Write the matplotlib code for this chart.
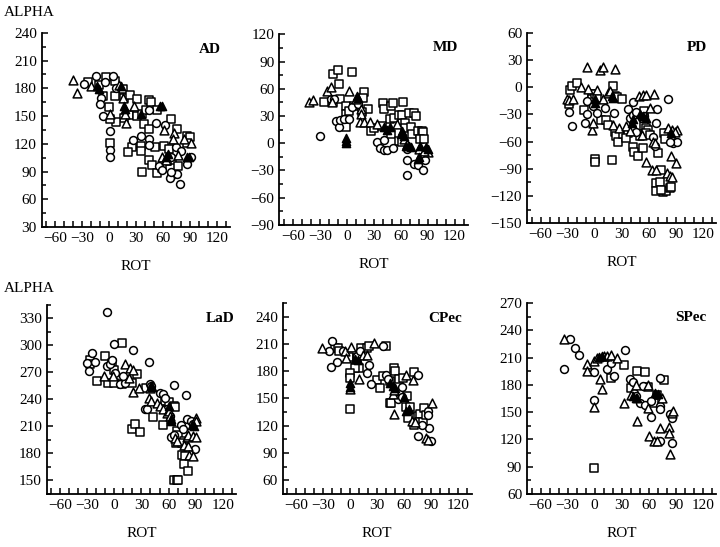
import numpy as np
import matplotlib
matplotlib.use('Agg')
import matplotlib.pyplot as plt
from matplotlib.ticker import MultipleLocator

plt.rcParams['font.family'] = ['Liberation Serif', 'DejaVu Serif']
plt.rcParams['font.size'] = 11

# values, (ROT, ALPHA) pairs
ad_circles = [(-28,185),(-15,193),(-9,170),(-10,163),(-5,187),(4,193),(8,180),(-7,150),(1,134),(1,113),(1,106),
              (44,156),(52,143),(62,140),(27,124),(36,128),(44,125),(44,119),(56,96),(59,92),(69,106),(74,116),
              (80,112),(69,85),(68,83),(76,87),(79,77),(87,98),(91,106),(69,90)]
ad_squares = [(-23,187),(-11,184),(-7,172),(-4,192),(7,188),(15,179),(7,172),(17,169),(23,173),(31,168),(22,151),
              (17,148),(8,144),(0,160),(1,147),(1,121),(31,150),(37,152),(41,157),(44,167),(47,165),(53,156),
              (39,141),(44,136),(69,147),(75,136),(87,128),(90,127),(87,121),(35,118),(25,117),(35,112),(21,111),
              (51,116),(61,118),(44,103),(48,97),(37,90),(53,88),(67,114),(70,103),(77,96),(64,101),(59,94)]
ad_triangles = [(-40,189),(-36,175),(-20,182),(11,184),(15,170),(28,161),(18,152),(19,142),(1,152),(61,135),
                (72,132),(83,125),(91,121),(71,125),(59,106),(63,103),(77,108)]
ad_filled = [(-13,182),(-11,179),(13,183),(17,161),(18,158),(35,152),(57,161),(59,161),(63,106),(65,109),
             (87,106),(89,106)]

md_circles = [(-30,8),(-18,49),(-14,49),(-12,25),(-9,18),(-7,26),(-3,27),(3,27),(6,40),(13,43),(34,1),(37,-5),
              (41,-7),(45,-8),(51,-5),(42,4),(67,-6),(67,-19),(75,-23),(79,-24),(85,-29),(87,-19),(67,-35)]
md_squares = [(-25,45),(-15,76),(-10,81),(6,79),(-15,45),(-7,49),(-9,65),(-1,41),(-1,32),(-1,26),(-1,18),(3,36),
              (8,41),(19,57),(18,50),(24,38),(17,34),(27,14),(30,17),(40,44),(42,38),(49,41),(51,44),(63,45),
              (48,27),(39,19),(53,28),(58,31),(62,31),(69,33),(75,33),(77,30),(65,22),(65,17),(71,18),(73,10),
              (79,13),(84,13),(85,12),(49,10),(58,2),(62,1),(82,5),(86,5)]
md_triangles = [(-42,45),(-38,48),(-22,58),(-18,62),(3,58),(-16,46),(10,49),(16,38),(16,32),(15,23),(19,23),
                (26,23),(34,21),(56,21),(64,5),(67,-1),(81,-6),(91,-10),(86,-9)]
md_filled = [(-1,6),(-1,3),(-1,0),(11,52),(13,50),(42,18),(45,15),(48,18),(62,14),(60,10),(64,8),(66,-3),
             (69,-3),(71,-4),(88,-4),(90,-6),(82,-3),(79,-17),(80,-15)]

pd_circles = [(-29,-27),(-25,-43),(-9,-15),(-9,-30),(-11,-39),(-2,-21),(3,-28),(11,-23),(21,-29),(37,-24),
              (43,-16),(39,-34),(43,-31),(46,-27),(69,-24),(81,-13),(46,-49),(52,-34),(55,-32),(65,-55),
              (67,-65),(68,-39),(87,-62),(91,-60),(83,-60)]
pd_squares = [(-29,-18),(-27,-3),(-25,1),(-20,5),(-12,-25),(-3,-7),(-3,-13),(0,-79),(0,-83),(0,-8),(3,-12),
              (7,-36),(13,-36),(15,-42),(20,1),(22,-10),(25,-11),(30,-13),(19,-80),(22,-49),(24,-54),(26,-60),
              (31,-52),(37,-50),(41,-47),(35,-56),(43,-66),(44,-71),(48,-76),(54,-67),(50,-54),(55,-26),
              (55,-43),(57,-45),(59,-47),(57,-50),(61,-53),(70,-73),(74,-91),(68,-106),(72,-105),(76,-116),
              (79,-115),(68,-115),(74,-113),(83,-111),(85,-110),(81,-50),(85,-54),(77,-50),(78,-57)]
pd_triangles = [(-31,-13),(-28,-14),(-24,-13),(-15,0),(-7,-2),(-9,22),(-3,-47),(-2,-40),(3,-3),(6,19),(9,22),
                (22,20),(9,-13),(15,-6),(17,-4),(20,-42),(27,-45),(35,-43),(39,-48),(49,-10),(54,-9),(57,-9),
                (66,-7),(53,-53),(61,-23),(57,-83),(65,-60),(67,-62),(64,-91),(68,-91),(81,-45),(86,-47),
                (91,-47),(89,-49),(85,-76),(90,-84),(80,-95),(83,-98),(86,-99)]
pd_filled = [(0,-13),(0,-17),(19,-10),(20,-12),(41,-39),(43,-35),(50,-30),(54,-32),(57,-34),(85,-51)]

lad_circles = [(-8,337),(-1,301),(21,295),(-25,291),(-28,271),(-30,280),(-21,281),(-8,277),(-5,279),(-3,284),
               (1,269),(6,257),(12,258),(10,266),(38,281),(40,257),(41,255),(34,229),(36,229),(51,247),(54,246),
               (56,241),(58,229),(62,222),(66,256),(79,245),(63,198),(66,200),(74,211),(76,207),(81,218),
               (85,216),(87,213),(89,185)]
lad_squares = [(8,302),(-27,284),(-27,279),(-10,288),(-19,260),(-7,258),(-1,258),(-3,280),(-1,273),(8,257),
               (14,260),(19,258),(25,268),(19,207),(23,213),(28,204),(35,253),(43,220),(56,238),(60,237),
               (66,233),(67,232),(54,211),(69,205),(71,200),(68,192),(77,194),(75,192),(75,178),(78,177),
               (77,168),(82,161),(66,151),(69,151),(71,151)]
lad_triangles = [(-12,266),(-2,266),(12,279),(17,275),(21,273),(16,264),(21,248),(27,253),(40,253),(38,242),
                 (41,238),(47,236),(51,233),(54,229),(58,225),(60,227),(62,222),(67,197),(69,194),(90,219),
                 (91,216),(80,198),(82,200),(87,199),(91,198),(77,189),(82,188),(83,178),(87,177)]
lad_filled = [(41,255),(42,254),(60,233),(63,218),(63,216),(86,212),(88,210)]

cpec_circles = [(-24,202),(-20,213),(-21,185),(-15,190),(-8,202),(7,197),(11,202),(19,178),(21,187),(36,208),
                (23,166),(40,176),(42,171),(53,149),(58,152),(58,163),(75,176),(86,136),(87,132),(75,109),
                (90,103),(88,118),(80,121)]
cpec_squares = [(-17,205),(-14,205),(-13,202),(-1,196),(7,194),(12,206),(19,205),(10,183),(5,183),(0,178),
                (0,172),(0,138),(21,208),(40,208),(30,170),(33,161),(36,175),(44,169),(49,184),(50,180),
                (44,145),(45,145),(54,171),(59,172),(71,179),(63,153),(62,141),(66,141),(64,129),(71,121),
                (75,131),(78,133),(77,124),(81,124),(82,139),(84,132)]
cpec_triangles = [(-31,206),(-6,202),(-5,194),(1,207),(14,198),(19,198),(10,171),(0,160),(26,211),(47,155),
                  (49,159),(49,133),(62,176),(70,170),(69,125),(72,124),(84,106),(87,104),(91,145)]
cpec_filled = [(5,193),(9,192),(0,167),(0,163),(44,167),(47,164),(50,162),(60,152),(62,136),(65,138)]

spec_circles = [(-27,230),(-22,221),(-17,213),(-34,197),(-1,194),(14,197),(18,204),(21,190),(34,218),(-1,163),
                (39,186),(42,183),(44,171),(46,168),(50,160),(54,179),(56,158),(63,162),(63,145),(72,118),
                (72,187),(73,157),(73,153),(84,148),(86,143),(86,116)]
spec_squares = [(18,188),(32,202),(-1,88),(47,195),(56,194),(40,176),(59,178),(66,160),(69,169),(77,185)]
spec_triangles = [(-34,230),(-9,203),(-8,195),(-1,206),(3,209),(10,212),(14,212),(18,213),(6,186),(8,175),
                  (25,210),(-1,156),(32,160),(40,169),(46,180),(47,140),(59,180),(59,154),(60,124),(66,118),
                  (69,118),(73,133),(75,166),(82,134),(82,127),(84,104),(86,149),(87,151)]
spec_filled = [(5,211),(8,212),(42,168),(46,166),(47,165),(67,171),(70,170)]


def panel(ax, name, ylo, yhi, circles, squares, triangles, filled, name_x=0.95, name_y=0.915):
    for pts, m, fc, s in [(squares, 's', 'white', 36), (circles, 'o', 'white', 32),
                          (triangles, '^', 'white', 40), (filled, '^', 'black', 34)]:
        a = np.array(pts, dtype=float)
        ax.scatter(a[:, 0], a[:, 1], marker=m, s=s, facecolors=fc, edgecolors='black', linewidths=1.1, zorder=3)
    ax.set_xlim(-75, 135)
    ax.set_ylim(ylo, yhi)
    ax.spines['top'].set_visible(False)
    ax.spines['right'].set_visible(False)
    ax.spines['left'].set_linewidth(1.3)
    ax.spines['bottom'].set_linewidth(1.3)
    ax.set_xticks(np.arange(-60, 121, 30))
    ax.xaxis.set_minor_locator(MultipleLocator(10))
    ax.set_yticks(np.arange(ylo if (ylo % 30 == 0) else ylo + 15, yhi + 1, 30))
    ax.yaxis.set_minor_locator(MultipleLocator(15))
    ax.tick_params(which='both', direction='in', width=1.1, labelsize=11)
    ax.tick_params(which='major', length=4)
    ax.tick_params(which='minor', length=4)
    ax.tick_params(axis='y', which='minor', length=3)
    ax.set_xlabel('ROT', fontsize=11, labelpad=11)
    ax.text(name_x, name_y, name, transform=ax.transAxes, ha='right', va='center',
            fontsize=11, fontweight='bold')


fig = plt.figure(figsize=(7.2, 5.47), dpi=100)

ax1 = fig.add_axes([0.058, 0.585, 0.262, 0.355])
ax2 = fig.add_axes([0.388, 0.589, 0.262, 0.348])
ax3 = fig.add_axes([0.732, 0.592, 0.263, 0.348])
ax4 = fig.add_axes([0.065, 0.097, 0.263, 0.346])
ax5 = fig.add_axes([0.393, 0.097, 0.262, 0.349])
ax6 = fig.add_axes([0.732, 0.097, 0.263, 0.349])

panel(ax1, 'AD', 30, 240, ad_circles, ad_squares, ad_triangles, ad_filled)
panel(ax2, 'MD', -90, 120, md_circles, md_squares, md_triangles, md_filled, name_y=0.93)
panel(ax3, 'PD', -150, 60, pd_circles, pd_squares, pd_triangles, pd_filled, name_y=0.925)
panel(ax4, 'LaD', 135, 345, lad_circles, lad_squares, lad_triangles, lad_filled, name_x=0.99, name_y=0.925)
panel(ax5, 'CPec', 45, 255, cpec_circles, cpec_squares, cpec_triangles, cpec_filled, name_y=0.92)
panel(ax6, 'SPec', 60, 270, spec_circles, spec_squares, spec_triangles, spec_filled, name_y=0.925)

fig.text(0.005, 1 - 13 / 547, 'ALPHA', fontsize=11, va='center', ha='left')
fig.text(0.005, 1 - 288 / 547, 'ALPHA', fontsize=11, va='center', ha='left')

fig.savefig('out.png', dpi=100)
